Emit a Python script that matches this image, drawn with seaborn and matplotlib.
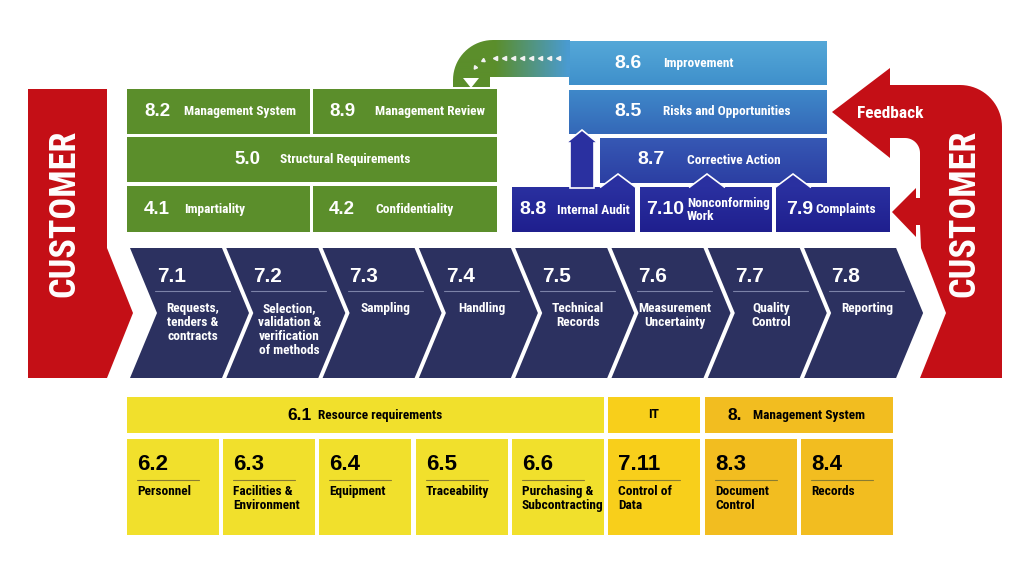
import numpy as np
import pandas as pd
import seaborn as sns
import matplotlib
matplotlib.use("Agg")
import matplotlib.pyplot as plt
from matplotlib.patches import Rectangle, Polygon
from matplotlib.colors import LinearSegmentedColormap
from matplotlib import font_manager as fm

# ---------------- data ----------------
process_ids = ["7.1", "7.2", "7.3", "7.4", "7.5", "7.6", "7.7", "7.8"]
process_labels = ["Requests,\ntenders &\ncontracts",
                  "Selection,\nvalidation &\nverification\nof methods",
                  "Sampling", "Handling", "Technical\nRecords",
                  "Measurement\nUncertainty", "Quality\nControl", "Reporting"]
structure_ids = ["8.2", "8.9", "5.0", "4.1", "4.2"]
structure_labels = ["Management System", "Management Review",
                    "Structural Requirements", "Impartiality", "Confidentiality"]
improve_ids = ["8.6", "8.5", "8.7"]
improve_labels = ["Improvement", "Risks and Opportunities", "Corrective Action"]
input_ids = ["8.8", "7.10", "7.9"]
input_labels = ["Internal Audit", "Nonconforming\nWork", "Complaints"]
group_ids = ["6.1", "IT", "8."]
group_labels = ["Resource requirements", "", "Management System"]
resource_ids = ["6.2", "6.3", "6.4", "6.5", "6.6", "7.11", "8.3", "8.4"]
resource_labels = ["Personnel", "Facilities &\nEnvironment", "Equipment",
                   "Traceability", "Purchasing &\nSubcontracting",
                   "Control of\nData", "Document\nControl", "Records"]
resource_groups = ["6.1", "6.1", "6.1", "6.1", "6.1", "IT", "8.", "8."]
customer_text = "CUSTOMER"
feedback_text = "Feedback"

# ---------------- style ----------------
sns.set_theme(style="white")
names = {f.name for f in fm.fontManager.ttflist}
cond_family, cond_stretch = None, "normal"
for n in ["Liberation Sans Narrow", "Roboto Condensed", "Open Sans Condensed", "Arial Narrow"]:
    if n in names:
        cond_family = n
        break
if cond_family is None:
    cond_family, cond_stretch = "DejaVu Sans", "condensed"
num_family = "Liberation Sans" if "Liberation Sans" in names else "DejaVu Sans"
plt.rcParams["font.family"] = [num_family, "DejaVu Sans"]

pal = sns.color_palette(["#c40f16", "#5b8e2b", "#2c3160", "#f1e02c", "#f8cf1b", "#f2bd20"])
RED, GREEN, NAVY, Y1, Y2, Y3 = [matplotlib.colors.to_hex(c) for c in pal]
ygroup_col = {"6.1": Y1, "IT": Y2, "8.": Y3}

W, H = 1024, 576
fig = plt.figure(figsize=(10.24, 5.76), dpi=100)
ax = fig.add_axes([0, 0, 1, 1])
ax.axis("off")

LS = 9.6  # label font size


def num(x, y, s, size=13, color="white", ha="left", va="center"):
    ax.text(x, y, s, fontsize=size, color=color, ha=ha, va=va, fontweight="bold",
            family=[num_family, "DejaVu Sans"], zorder=6)


def lab(x, y, s, size=LS, color="white", ha="left", va="center", rot=0, ls=1.1):
    ax.text(x, y, s, fontsize=size, color=color, ha=ha, va=va, fontweight="bold",
            family=[cond_family, "DejaVu Sans"], fontstretch=cond_stretch,
            rotation=rot, linespacing=ls, zorder=6)


def rect(x0, y0, x1, y1, color, z=2):
    ax.add_patch(Rectangle((x0, y0), x1 - x0, y1 - y0, facecolor=color,
                           edgecolor="none", zorder=z))


def grad_rect(x0, y0, x1, y1, ctop, cbot, z=2):
    cmap = LinearSegmentedColormap.from_list("g", [ctop, cbot])
    img = np.linspace(0, 1, 64)[:, None]
    ax.imshow(img, extent=(x0, x1, y1, y0), cmap=cmap, aspect="auto",
              interpolation="bilinear", zorder=z)


# ---------------- left customer ----------------
ax.add_patch(Polygon([(28, 89), (107, 89), (107, 248), (133, 313), (107, 378), (28, 378)],
                     closed=True, facecolor=RED, edgecolor="none", zorder=2))
lab(64, 213, customer_text, size=26, rot=90, ha="center")

# ---------------- right customer / feedback ----------------
t = np.linspace(0, np.pi / 2, 20)
inner = [(905 + 15 * np.cos(a), 153 - 15 * np.sin(a)) for a in t]
outer = [(960 + 42 * np.sin(a), 127 - 42 * np.cos(a)) for a in t]
pts = [(920, 378), (946, 313), (921, 248), (920, 225), (916, 225), (916, 237), (892, 212),
       (916, 188), (916, 198), (920, 198)] + inner + \
      [(890, 138), (890, 158), (832, 112), (890, 68), (890, 85)] + outer + [(1002, 378)]
ax.add_patch(Polygon(pts, closed=True, facecolor=RED, edgecolor="none", zorder=2))
lab(890, 114, feedback_text, size=12.5, ha="center")
lab(964, 213, customer_text, size=26, rot=90, ha="center")

# ---------------- green structure block ----------------
rect(127, 89, 310, 134, GREEN)
rect(313, 89, 497, 134, GREEN)
rect(127, 137, 497, 182, GREEN)
rect(127, 186, 310, 232, GREEN)
rect(313, 186, 497, 232, GREEN)
g_pos = [(144, 184, 111), (329, 375, 111), (234, 280, 160), (144, 184, 209), (329, 375, 209)]
for (xn, xl, yc), i_, l_ in zip(g_pos, structure_ids, structure_labels):
    num(xn, yc, i_, size=13.5)
    lab(xl, yc, l_)

# ---------------- green curved arrow (8.6 -> 8.9) ----------------
arc_o = [(493 - 40 * np.sin(a), 80 - 40 * np.cos(a)) for a in t]
arr_pts = [(570, 40)] + arc_o + [(453, 87), (490, 87), (490, 77), (570, 77)]
arr = Polygon(arr_pts, closed=True, facecolor="none", edgecolor="none", zorder=3)
ax.add_patch(arr)
gx = np.clip((np.linspace(450, 570, 120) - 495) / (568 - 495), 0, 1)[None, :]
gcmap = LinearSegmentedColormap.from_list("gb", [GREEN, "#4a9bd0"])
im = ax.imshow(gx, extent=(450, 570, 88, 39), cmap=gcmap, aspect="auto", zorder=3,
               interpolation="bilinear")
im.set_clip_path(arr)
xs = np.arange(558, 494, -9)
ax.plot(xs, np.full(len(xs), 58), ls="none", marker="<", ms=3, color="#f2f2f2", zorder=4)
for a in [0.45, 0.95]:
    ax.plot(493 - 22 * np.sin(a), 80 - 22 * np.cos(a), ls="none",
            marker=(3, 0, 90 + np.degrees(a)), ms=3, color="#f2f2f2", zorder=4)
ax.add_patch(Polygon([(463, 78), (479, 78), (471, 88)], closed=True,
                     facecolor="white", edgecolor="none", zorder=4))

# ---------------- blue improvement block ----------------
grad_rect(569, 41, 827, 85, "#55a8d8", "#3f90cb")
grad_rect(569, 90, 827, 134, "#3f88c9", "#3468b8")
grad_rect(600, 138, 827, 183, "#3658b4", "#2c3fa3")
BLUE_DK_T, BLUE_DK_B = "#2a30a0", "#1f1f8e"
grad_rect(512, 187, 635, 232, BLUE_DK_T, BLUE_DK_B)
grad_rect(640, 187, 772, 232, BLUE_DK_T, BLUE_DK_B)
grad_rect(776, 187, 890, 232, BLUE_DK_T, BLUE_DK_B)
# up arrow from internal audit
ax.add_patch(Polygon([(570, 188), (570, 143), (566, 143), (582, 130), (598, 143),
                      (594, 143), (594, 188)], closed=True, facecolor=BLUE_DK_T,
                     edgecolor="white", lw=1.2, zorder=3))
for cx in [618, 707, 793]:
    ax.add_patch(Polygon([(cx - 18, 187.5), (cx, 174), (cx + 18, 187.5)], closed=False,
                         facecolor=BLUE_DK_T, edgecolor="white", lw=1.2, zorder=3))

b_pos = [(614, 663, 63), (614, 663, 112), (637, 687, 160)]
for (xn, xl, yc), i_, l_ in zip(b_pos, improve_ids, improve_labels):
    num(xn, yc, i_, size=14)
    lab(xl, yc, l_)
i_pos = [(519, 557, 210), (646, 687, 210), (786, 815, 210)]
for (xn, xl, yc), i_, l_ in zip(i_pos, input_ids, input_labels):
    num(xn, yc, i_, size=14)
    lab(xl, yc, l_, ls=1.0)

# ---------------- process chevrons ----------------
for k, (pid, plab) in enumerate(zip(process_ids, process_labels)):
    s = 130 + 96.3 * k
    ax.add_patch(Polygon([(s, 248), (s + 92, 248), (s + 119, 313), (s + 92, 378),
                          (s, 378), (s + 27, 313)], closed=True, facecolor=NAVY,
                         edgecolor="none", zorder=2))
    num(s + 27, 276, pid, size=15)
    ax.plot([s + 25, s + 100], [291, 291], color="#7c82a8", lw=0.8, zorder=5)
    lab(s + 63, 302, plab, ha="center", va="top")

# ---------------- resource block ----------------
rect(127, 397, 604, 433, Y1)
rect(608, 397, 700, 433, Y2)
rect(705, 397, 893, 433, Y3)
num(287, 415, group_ids[0], size=12.5, color="black")
lab(318, 415, group_labels[0], color="black")
lab(654, 415, group_ids[1], color="black", ha="center")
num(727, 415, group_ids[2], size=12.5, color="black")
lab(753, 415, group_labels[2], color="black")

r_x = [127, 223, 319, 416, 512, 608, 705, 801]
for x0, rid, rlab, grp in zip(r_x, resource_ids, resource_labels, resource_groups):
    rect(x0, 439, x0 + 92, 535, ygroup_col[grp])
    num(x0 + 10, 465, rid, size=16, color="black")
    ax.plot([x0 + 10, x0 + 72], [480, 480], color="#8a7c30", lw=0.8, zorder=5)
    lab(x0 + 10, 485, rlab, color="black", va="top")

ax.set_xlim(0, W)
ax.set_ylim(H, 0)
fig.savefig("out.png", dpi=100, facecolor="white")
